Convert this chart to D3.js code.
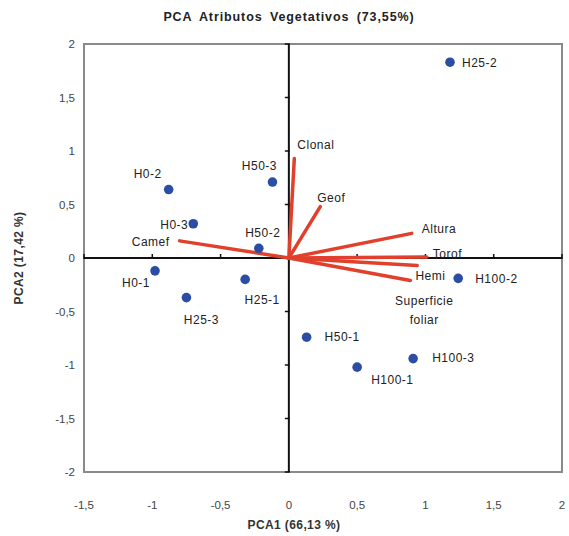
<!DOCTYPE html>
<html>
<head>
<meta charset="utf-8">
<script src="https://cdn.jsdelivr.net/npm/d3@7"></script>
<style>
  body { margin: 0; background: #fff; }
  text { font-family: "Liberation Sans", Arial, sans-serif; }
</style>
</head>
<body>
<script>
(function(){

//data
var obsNames = ["H25-2", "H50-3", "H0-2", "H0-3", "H50-2", "H0-1", "H25-3", "H25-1", "H100-2", "H50-1", "H100-3", "H100-1"];
var obsPC1 = [1.18, -0.12, -0.88, -0.70, -0.22, -0.98, -0.75, -0.32, 1.24, 0.13, 0.91, 0.50];
var obsPC2 = [1.83, 0.71, 0.64, 0.32, 0.09, -0.12, -0.37, -0.20, -0.19, -0.74, -0.94, -1.02];

var varNames = ["Clonal", "Geof", "Altura", "Torof", "Superficie foliar", "Hemi", "Camef"];
var varPC1 = [0.04, 0.23, 0.90, 1.01, 0.94, 0.89, -0.80];
var varPC2 = [0.93, 0.48, 0.23, 0.01, -0.07, -0.21, 0.16];

var xTicks = [-1.5, -1, -0.5, 0, 0.5, 1, 1.5, 2];
var yTicks = [-2, -1.5, -1, -0.5, 0, 0.5, 1, 1.5, 2];

//label placement (px from the mark)
var obsLabelPos = [[12, 5, "start"], [-13, -12, "middle"], [-21, -12, "middle"], [-5, 5, "end"],
    [4, -11, "middle"], [-5, 16, "end"], [15, 26, "middle"], [17, 25, "middle"],
    [17, 5, "start"], [18, 4, "start"], [19, 3, "start"], [14, 17, "start"]];
var varLabelPos = [[3, -9, "start"], [-3, -5, "start"], [10, 0, "start"], [6, 1, "start"],
    [7, 40, "middle"], [5, 0, "start"], [-10, 5, "end"]];

var width = 569, height = 536;
var left = 84, right = 562, top = 44, bottom = 472;

var svg = d3.select("body").append("svg")
    .attr("width", width)
    .attr("height", height);

var x = d3.scaleLinear().domain([-1.5, 2]).range([left, right]);
var y = d3.scaleLinear().domain([-2, 2]).range([bottom, top]);

var fmt = function(d){ return String(d).replace(".", ","); };

//title
svg.append("text")
    .attr("x", 289).attr("y", 21)
    .attr("text-anchor", "middle")
    .style("font-size", "12.5px").style("font-weight", "bold")
    .style("letter-spacing", "0.9px").style("word-spacing", "3px")
    .attr("fill", "#222")
    .text("PCA Atributos Vegetativos (73,55%)");

//frame
svg.append("rect")
    .attr("x", left).attr("y", top)
    .attr("width", right - left).attr("height", bottom - top)
    .attr("fill", "none").attr("stroke", "#8a8a8a").attr("stroke-width", 2);

//tick labels on the frame
svg.append("g").selectAll("text").data(xTicks).enter().append("text")
    .attr("x", function(d){ return x(d); })
    .attr("y", 509)
    .attr("text-anchor", "middle")
    .style("font-size", "11.5px").attr("fill", "#444")
    .text(fmt);

svg.append("g").selectAll("text").data(yTicks).enter().append("text")
    .attr("x", 75)
    .attr("y", function(d){ return y(d) + 4; })
    .attr("text-anchor", "end")
    .style("font-size", "11.5px").attr("fill", "#444")
    .text(fmt);

//axis titles
svg.append("text")
    .attr("x", 294).attr("y", 529)
    .attr("text-anchor", "middle")
    .style("font-size", "12px").style("font-weight", "bold")
    .style("letter-spacing", "0.4px")
    .attr("fill", "#333")
    .text("PCA1 (66,13 %)");

svg.append("text")
    .attr("transform", "translate(23," + y(0) + ") rotate(-90)")
    .attr("text-anchor", "middle")
    .style("font-size", "12px").style("font-weight", "bold")
    .style("letter-spacing", "0.4px")
    .attr("fill", "#333")
    .text("PCA2 (17,42 %)");

//zero axes with cross ticks
var zero = svg.append("g");
zero.append("line")
    .attr("x1", left).attr("x2", right)
    .attr("y1", y(0)).attr("y2", y(0))
    .attr("stroke", "#111").attr("stroke-width", 2);
zero.append("line")
    .attr("x1", x(0)).attr("x2", x(0))
    .attr("y1", top).attr("y2", bottom)
    .attr("stroke", "#111").attr("stroke-width", 2);
zero.selectAll(".xt").data(xTicks).enter().append("line")
    .attr("class", "xt")
    .attr("x1", function(d){ return x(d); }).attr("x2", function(d){ return x(d); })
    .attr("y1", y(0) - 4).attr("y2", y(0) + 1)
    .attr("stroke", "#111").attr("stroke-width", 1.5);
zero.selectAll(".yt").data(yTicks).enter().append("line")
    .attr("class", "yt")
    .attr("x1", x(0) - 4).attr("x2", x(0) + 1)
    .attr("y1", function(d){ return y(d); }).attr("y2", function(d){ return y(d); })
    .attr("stroke", "#111").attr("stroke-width", 1.5);

//variable vectors
var vecs = svg.append("g");
varNames.forEach(function(name, i){
    vecs.append("line")
        .attr("x1", x(0)).attr("y1", y(0))
        .attr("x2", x(varPC1[i])).attr("y2", y(varPC2[i]))
        .attr("stroke", "#e0402c").attr("stroke-width", 3.5)
        .attr("stroke-linecap", "round");
    var p = varLabelPos[i];
    var t = vecs.append("text")
        .attr("x", x(varPC1[i]) + p[0])
        .attr("y", y(varPC2[i]) + p[1])
        .attr("text-anchor", p[2])
        .style("font-size", "12px").style("letter-spacing", "0.5px")
        .attr("fill", "#222");
    var words = name.split(" ");
    if (words.length > 1) {
        words.forEach(function(w, k){
            t.append("tspan")
                .attr("x", x(varPC1[i]) + p[0])
                .attr("dy", k === 0 ? 0 : 19)
                .text(w);
        });
    } else {
        t.text(name);
    }
});

//observations
var pts = svg.append("g");
obsNames.forEach(function(name, i){
    pts.append("circle")
        .attr("cx", x(obsPC1[i])).attr("cy", y(obsPC2[i]))
        .attr("r", 4.8)
        .attr("fill", "#2b4da3");
    var p = obsLabelPos[i];
    pts.append("text")
        .attr("x", x(obsPC1[i]) + p[0])
        .attr("y", y(obsPC2[i]) + p[1])
        .attr("text-anchor", p[2])
        .style("font-size", "12px").style("letter-spacing", "0.5px")
        .attr("fill", "#222")
        .text(name);
});

})();
</script>
</body>
</html>
